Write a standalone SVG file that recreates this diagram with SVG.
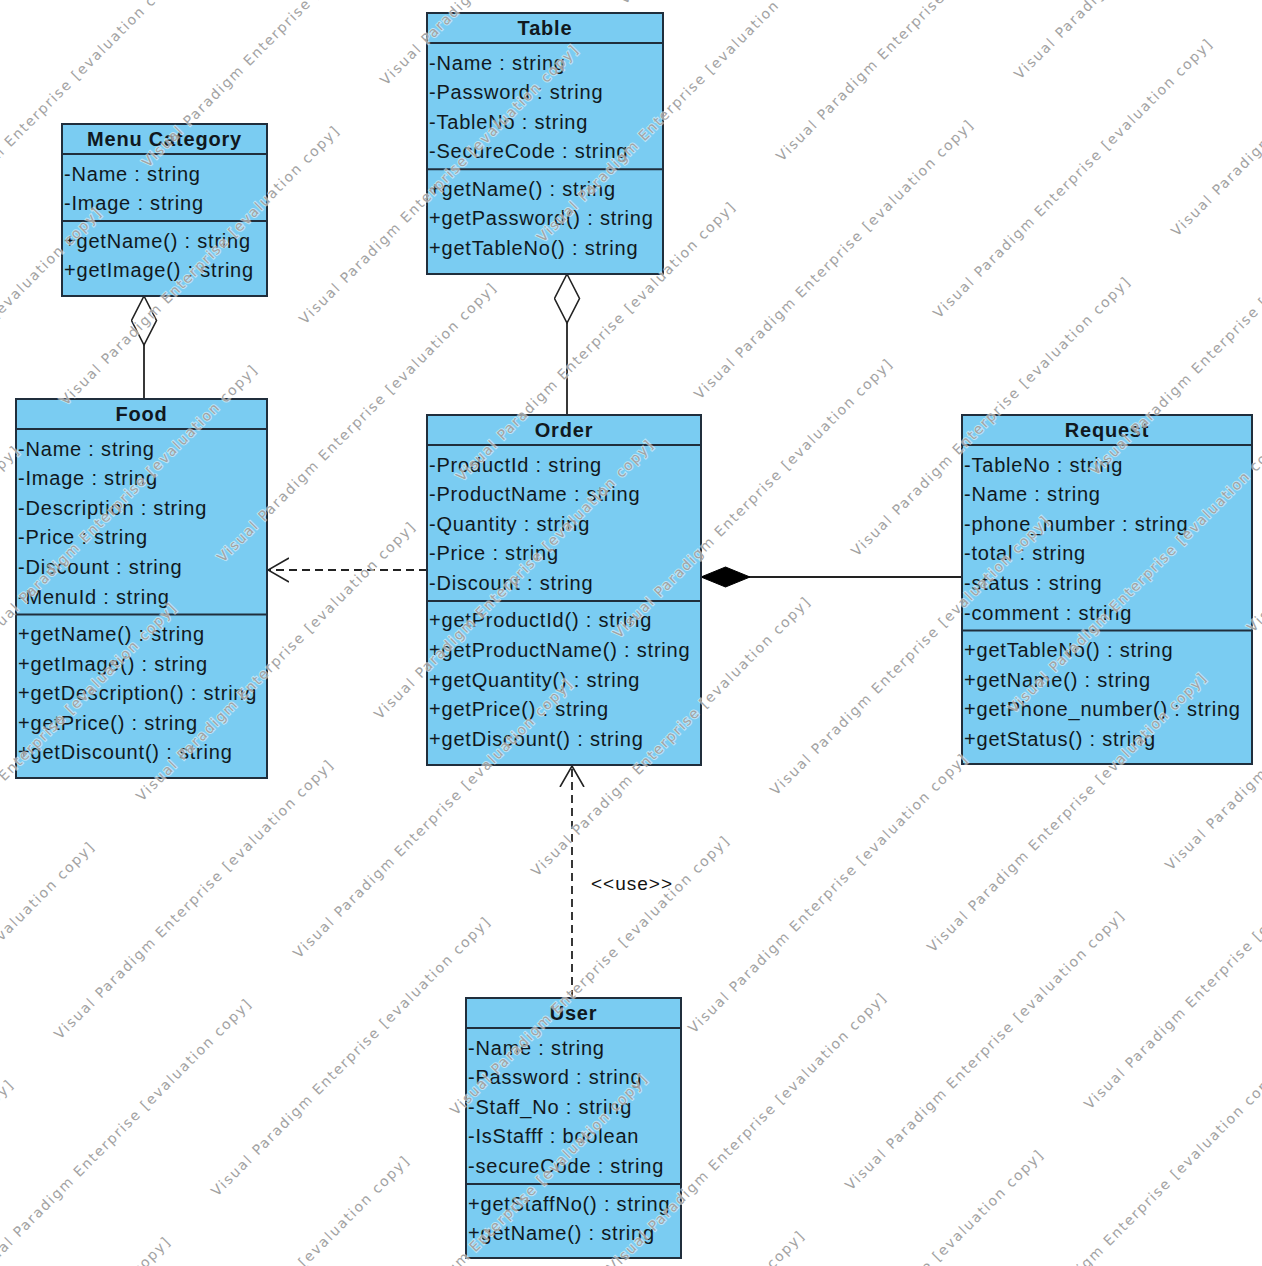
<svg xmlns="http://www.w3.org/2000/svg" width="1262" height="1266" viewBox="0 0 1262 1266">
<style>
.box{fill:#7accf2;stroke:#202e3c;stroke-width:2}
.sep{stroke:#202e3c;stroke-width:2}
.t{font-family:"Liberation Sans",Arial,sans-serif;font-size:20px;letter-spacing:0.8px;fill:#101820}
.title{font-weight:bold;text-anchor:middle}
.ln{stroke:#222;stroke-width:1.8;fill:none}
.dash{stroke-dasharray:8 5}
.lbl{font-family:"Liberation Sans",Arial,sans-serif;font-size:19px;letter-spacing:1px;fill:#111}
.wm{font-family:"DejaVu Sans",sans-serif;font-size:14px;fill:#a3a3a3;stroke:#ffffff;stroke-width:2;stroke-opacity:0.5;paint-order:stroke}
</style>
<defs>
<marker id="open" viewBox="0 0 22 26" refX="21" refY="13" markerWidth="22" markerHeight="26" markerUnits="userSpaceOnUse" orient="auto">
<path d="M0,1 L21,13 L0,25" fill="none" stroke="#222" stroke-width="1.6"/>
</marker>
<marker id="agg" viewBox="-1 -1 51 27" refX="0" refY="12.5" markerWidth="51" markerHeight="27" markerUnits="userSpaceOnUse" orient="auto">
<path d="M0,12.5 L24.5,0 L49,12.5 L24.5,25 Z" fill="#ffffff" stroke="#222" stroke-width="1.6"/>
</marker>
<marker id="comp" viewBox="-1 -1 51 23" refX="0" refY="10" markerWidth="51" markerHeight="23" markerUnits="userSpaceOnUse" orient="auto">
<path d="M0,10 L24.5,0 L49,10 L24.5,20 Z" fill="#000000" stroke="#000" stroke-width="1"/>
</marker>
</defs>
<rect width="1262" height="1266" fill="#ffffff"/>

<g id="connectors">
<line class="ln" x1="144" y1="296" x2="144" y2="399" marker-start="url(#agg)"/>
<line class="ln" x1="567" y1="274" x2="567" y2="415" marker-start="url(#agg)"/>
<line class="ln" x1="701" y1="577" x2="962" y2="577" marker-start="url(#comp)"/>
<line class="ln dash" x1="427" y1="570" x2="268" y2="570" marker-end="url(#open)"/>
<line class="ln dash" x1="572" y1="998" x2="572" y2="766" marker-end="url(#open)"/>
<text class="lbl" x="591" y="890">&lt;&lt;use&gt;&gt;</text>
</g>

<g id="menu-category">
<rect class="box" x="62" y="124" width="205" height="172"/>
<line class="sep" x1="62" y1="154" x2="267" y2="154"/>
<line class="sep" x1="62" y1="221" x2="267" y2="221"/>
<text class="t title" x="164.5" y="146">Menu Category</text>
<text class="t" x="64" y="180.5">-Name : string</text>
<text class="t" x="64" y="210.1">-Image : string</text>
<text class="t" x="64" y="247.5">+getName() : string</text>
<text class="t" x="64" y="277.1">+getImage() : string</text>
</g>

<g id="table">
<rect class="box" x="427" y="13" width="236" height="261"/>
<line class="sep" x1="427" y1="43" x2="663" y2="43"/>
<line class="sep" x1="427" y1="169.3" x2="663" y2="169.3"/>
<text class="t title" x="545" y="35">Table</text>
<text class="t" x="429" y="69.5">-Name : string</text>
<text class="t" x="429" y="99.1">-Password : string</text>
<text class="t" x="429" y="128.7">-TableNo : string</text>
<text class="t" x="429" y="158.3">-SecureCode : string</text>
<text class="t" x="429" y="195.8">+getName() : string</text>
<text class="t" x="429" y="225.4">+getPassword() : string</text>
<text class="t" x="429" y="255">+getTableNo() : string</text>
</g>

<g id="food">
<rect class="box" x="16" y="399" width="251" height="379"/>
<line class="sep" x1="16" y1="429" x2="267" y2="429"/>
<line class="sep" x1="16" y1="614.5" x2="267" y2="614.5"/>
<text class="t title" x="141.5" y="421">Food</text>
<text class="t" x="18" y="455.5">-Name : string</text>
<text class="t" x="18" y="485.1">-Image : string</text>
<text class="t" x="18" y="514.7">-Description : string</text>
<text class="t" x="18" y="544.3">-Price : string</text>
<text class="t" x="18" y="573.9">-Discount : string</text>
<text class="t" x="18" y="603.5">-MenuId : string</text>
<text class="t" x="18" y="641">+getName() : string</text>
<text class="t" x="18" y="670.6">+getImage() : string</text>
<text class="t" x="18" y="700.2">+getDescription() : string</text>
<text class="t" x="18" y="729.8">+getPrice() : string</text>
<text class="t" x="18" y="759.4">+getDiscount() : string</text>
</g>

<g id="order">
<rect class="box" x="427" y="415" width="274" height="350"/>
<line class="sep" x1="427" y1="445" x2="701" y2="445"/>
<line class="sep" x1="427" y1="601" x2="701" y2="601"/>
<text class="t title" x="564" y="437">Order</text>
<text class="t" x="429" y="471.5">-ProductId : string</text>
<text class="t" x="429" y="501.1">-ProductName : string</text>
<text class="t" x="429" y="530.7">-Quantity : string</text>
<text class="t" x="429" y="560.3">-Price : string</text>
<text class="t" x="429" y="589.9">-Discount : string</text>
<text class="t" x="429" y="627.4">+getProductId() : string</text>
<text class="t" x="429" y="657">+getProductName() : string</text>
<text class="t" x="429" y="686.6">+getQuantity() : string</text>
<text class="t" x="429" y="716.2">+getPrice() : string</text>
<text class="t" x="429" y="745.8">+getDiscount() : string</text>
</g>

<g id="request">
<rect class="box" x="962" y="415" width="290" height="349"/>
<line class="sep" x1="962" y1="445" x2="1252" y2="445"/>
<line class="sep" x1="962" y1="630.5" x2="1252" y2="630.5"/>
<text class="t title" x="1107" y="437">Request</text>
<text class="t" x="964" y="471.5">-TableNo : string</text>
<text class="t" x="964" y="501.1">-Name : string</text>
<text class="t" x="964" y="530.7">-phone_number : string</text>
<text class="t" x="964" y="560.3">-total : string</text>
<text class="t" x="964" y="589.9">-status : string</text>
<text class="t" x="964" y="619.5">-comment : string</text>
<text class="t" x="964" y="657">+getTableNo() : string</text>
<text class="t" x="964" y="686.6">+getName() : string</text>
<text class="t" x="964" y="716.2">+getPhone_number() : string</text>
<text class="t" x="964" y="745.8">+getStatus() : string</text>
</g>

<g id="user">
<rect class="box" x="466" y="998" width="215" height="260"/>
<line class="sep" x1="466" y1="1028" x2="681" y2="1028"/>
<line class="sep" x1="466" y1="1184" x2="681" y2="1184"/>
<text class="t title" x="573.5" y="1020">User</text>
<text class="t" x="468" y="1054.5">-Name : string</text>
<text class="t" x="468" y="1084.1">-Password : string</text>
<text class="t" x="468" y="1113.7">-Staff_No : string</text>
<text class="t" x="468" y="1143.3">-IsStafff : boolean</text>
<text class="t" x="468" y="1172.9">-secureCode : string</text>
<text class="t" x="468" y="1210.5">+getStaffNo() : string</text>
<text class="t" x="468" y="1240.1">+getName() : string</text>
</g>

<g id="watermark">
<text class="wm" x="-91" y="249" transform="rotate(-45 -91 249)" textLength="387" lengthAdjust="spacing">Visual Paradigm Enterprise [evaluation copy]</text>
<text class="wm" x="-172" y="488" transform="rotate(-45 -172 488)" textLength="387" lengthAdjust="spacing">Visual Paradigm Enterprise [evaluation copy]</text>
<text class="wm" x="148" y="168" transform="rotate(-45 148 168)" textLength="387" lengthAdjust="spacing">Visual Paradigm Enterprise [evaluation copy]</text>
<text class="wm" x="-254" y="726" transform="rotate(-45 -254 726)" textLength="387" lengthAdjust="spacing">Visual Paradigm Enterprise [evaluation copy]</text>
<text class="wm" x="66" y="406" transform="rotate(-45 66 406)" textLength="387" lengthAdjust="spacing">Visual Paradigm Enterprise [evaluation copy]</text>
<text class="wm" x="386" y="86" transform="rotate(-45 386 86)" textLength="387" lengthAdjust="spacing">Visual Paradigm Enterprise [evaluation copy]</text>
<text class="wm" x="-16" y="645" transform="rotate(-45 -16 645)" textLength="387" lengthAdjust="spacing">Visual Paradigm Enterprise [evaluation copy]</text>
<text class="wm" x="305" y="325" transform="rotate(-45 305 325)" textLength="387" lengthAdjust="spacing">Visual Paradigm Enterprise [evaluation copy]</text>
<text class="wm" x="625" y="5" transform="rotate(-45 625 5)" textLength="387" lengthAdjust="spacing">Visual Paradigm Enterprise [evaluation copy]</text>
<text class="wm" x="-97" y="883" transform="rotate(-45 -97 883)" textLength="387" lengthAdjust="spacing">Visual Paradigm Enterprise [evaluation copy]</text>
<text class="wm" x="223" y="563" transform="rotate(-45 223 563)" textLength="387" lengthAdjust="spacing">Visual Paradigm Enterprise [evaluation copy]</text>
<text class="wm" x="543" y="243" transform="rotate(-45 543 243)" textLength="387" lengthAdjust="spacing">Visual Paradigm Enterprise [evaluation copy]</text>
<text class="wm" x="-179" y="1122" transform="rotate(-45 -179 1122)" textLength="387" lengthAdjust="spacing">Visual Paradigm Enterprise [evaluation copy]</text>
<text class="wm" x="142" y="802" transform="rotate(-45 142 802)" textLength="387" lengthAdjust="spacing">Visual Paradigm Enterprise [evaluation copy]</text>
<text class="wm" x="462" y="482" transform="rotate(-45 462 482)" textLength="387" lengthAdjust="spacing">Visual Paradigm Enterprise [evaluation copy]</text>
<text class="wm" x="782" y="162" transform="rotate(-45 782 162)" textLength="387" lengthAdjust="spacing">Visual Paradigm Enterprise [evaluation copy]</text>
<text class="wm" x="-260" y="1360" transform="rotate(-45 -260 1360)" textLength="387" lengthAdjust="spacing">Visual Paradigm Enterprise [evaluation copy]</text>
<text class="wm" x="60" y="1040" transform="rotate(-45 60 1040)" textLength="387" lengthAdjust="spacing">Visual Paradigm Enterprise [evaluation copy]</text>
<text class="wm" x="380" y="720" transform="rotate(-45 380 720)" textLength="387" lengthAdjust="spacing">Visual Paradigm Enterprise [evaluation copy]</text>
<text class="wm" x="700" y="400" transform="rotate(-45 700 400)" textLength="387" lengthAdjust="spacing">Visual Paradigm Enterprise [evaluation copy]</text>
<text class="wm" x="1020" y="80" transform="rotate(-45 1020 80)" textLength="387" lengthAdjust="spacing">Visual Paradigm Enterprise [evaluation copy]</text>
<text class="wm" x="-22" y="1279" transform="rotate(-45 -22 1279)" textLength="387" lengthAdjust="spacing">Visual Paradigm Enterprise [evaluation copy]</text>
<text class="wm" x="299" y="959" transform="rotate(-45 299 959)" textLength="387" lengthAdjust="spacing">Visual Paradigm Enterprise [evaluation copy]</text>
<text class="wm" x="619" y="639" transform="rotate(-45 619 639)" textLength="387" lengthAdjust="spacing">Visual Paradigm Enterprise [evaluation copy]</text>
<text class="wm" x="939" y="319" transform="rotate(-45 939 319)" textLength="387" lengthAdjust="spacing">Visual Paradigm Enterprise [evaluation copy]</text>
<text class="wm" x="-103" y="1517" transform="rotate(-45 -103 1517)" textLength="387" lengthAdjust="spacing">Visual Paradigm Enterprise [evaluation copy]</text>
<text class="wm" x="217" y="1197" transform="rotate(-45 217 1197)" textLength="387" lengthAdjust="spacing">Visual Paradigm Enterprise [evaluation copy]</text>
<text class="wm" x="537" y="877" transform="rotate(-45 537 877)" textLength="387" lengthAdjust="spacing">Visual Paradigm Enterprise [evaluation copy]</text>
<text class="wm" x="857" y="557" transform="rotate(-45 857 557)" textLength="387" lengthAdjust="spacing">Visual Paradigm Enterprise [evaluation copy]</text>
<text class="wm" x="1177" y="237" transform="rotate(-45 1177 237)" textLength="387" lengthAdjust="spacing">Visual Paradigm Enterprise [evaluation copy]</text>
<text class="wm" x="136" y="1436" transform="rotate(-45 136 1436)" textLength="387" lengthAdjust="spacing">Visual Paradigm Enterprise [evaluation copy]</text>
<text class="wm" x="456" y="1116" transform="rotate(-45 456 1116)" textLength="387" lengthAdjust="spacing">Visual Paradigm Enterprise [evaluation copy]</text>
<text class="wm" x="776" y="796" transform="rotate(-45 776 796)" textLength="387" lengthAdjust="spacing">Visual Paradigm Enterprise [evaluation copy]</text>
<text class="wm" x="1096" y="476" transform="rotate(-45 1096 476)" textLength="387" lengthAdjust="spacing">Visual Paradigm Enterprise [evaluation copy]</text>
<text class="wm" x="374" y="1354" transform="rotate(-45 374 1354)" textLength="387" lengthAdjust="spacing">Visual Paradigm Enterprise [evaluation copy]</text>
<text class="wm" x="694" y="1034" transform="rotate(-45 694 1034)" textLength="387" lengthAdjust="spacing">Visual Paradigm Enterprise [evaluation copy]</text>
<text class="wm" x="1014" y="714" transform="rotate(-45 1014 714)" textLength="387" lengthAdjust="spacing">Visual Paradigm Enterprise [evaluation copy]</text>
<text class="wm" x="613" y="1273" transform="rotate(-45 613 1273)" textLength="387" lengthAdjust="spacing">Visual Paradigm Enterprise [evaluation copy]</text>
<text class="wm" x="933" y="953" transform="rotate(-45 933 953)" textLength="387" lengthAdjust="spacing">Visual Paradigm Enterprise [evaluation copy]</text>
<text class="wm" x="1253" y="633" transform="rotate(-45 1253 633)" textLength="387" lengthAdjust="spacing">Visual Paradigm Enterprise [evaluation copy]</text>
<text class="wm" x="531" y="1511" transform="rotate(-45 531 1511)" textLength="387" lengthAdjust="spacing">Visual Paradigm Enterprise [evaluation copy]</text>
<text class="wm" x="851" y="1191" transform="rotate(-45 851 1191)" textLength="387" lengthAdjust="spacing">Visual Paradigm Enterprise [evaluation copy]</text>
<text class="wm" x="1171" y="871" transform="rotate(-45 1171 871)" textLength="387" lengthAdjust="spacing">Visual Paradigm Enterprise [evaluation copy]</text>
<text class="wm" x="770" y="1430" transform="rotate(-45 770 1430)" textLength="387" lengthAdjust="spacing">Visual Paradigm Enterprise [evaluation copy]</text>
<text class="wm" x="1090" y="1110" transform="rotate(-45 1090 1110)" textLength="387" lengthAdjust="spacing">Visual Paradigm Enterprise [evaluation copy]</text>
<text class="wm" x="1008" y="1348" transform="rotate(-45 1008 1348)" textLength="387" lengthAdjust="spacing">Visual Paradigm Enterprise [evaluation copy]</text>
</g>
</svg>
